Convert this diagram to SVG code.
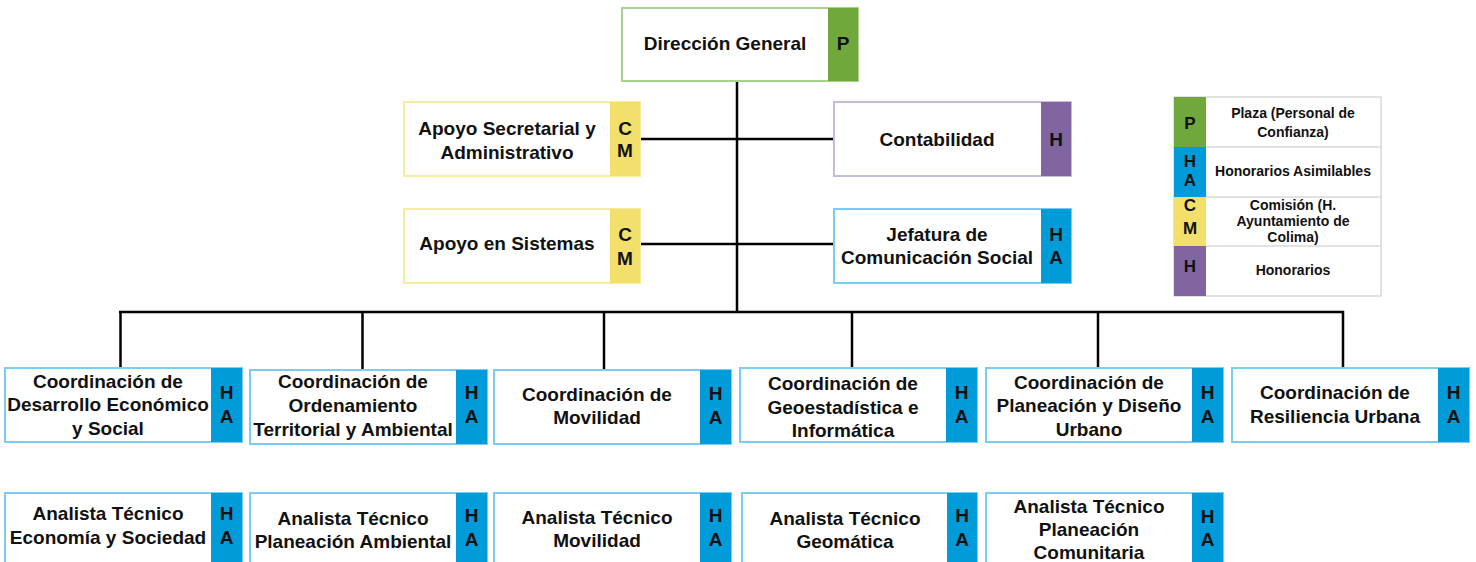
<svg xmlns="http://www.w3.org/2000/svg" width="1476" height="562" viewBox="0 0 1476 562">
<style>
text{font-family:"Liberation Sans",Arial,sans-serif;font-weight:bold;fill:#111;text-anchor:middle}
.t{font-size:19px}
.lg{font-size:14px}
.lk{font-size:17px}
.box{fill:#fff;stroke-width:2}
.bg{stroke:#a9d18e}.by{stroke:#f7eba0}.bp{stroke:#c9b9dd}.bb{stroke:#7acdf2}
.fg{fill:#70a83c}.fy{fill:#f3df6c}.fp{fill:#8065a1}.fb{fill:#009bd9}
.conn line{stroke:#000;stroke-width:2.5}
</style>
<rect width="1476" height="562" fill="#fff"/>
<g class="conn" id="connectors">
<line x1="737" y1="81" x2="737" y2="312"/>
<line x1="640" y1="139" x2="834" y2="139"/>
<line x1="640" y1="244" x2="834" y2="244"/>
<line x1="119" y1="312" x2="1344" y2="312"/>
<line x1="120.5" y1="311" x2="120.5" y2="368"/>
<line x1="362.5" y1="311" x2="362.5" y2="370"/>
<line x1="604" y1="311" x2="604" y2="370"/>
<line x1="852" y1="311" x2="852" y2="368"/>
<line x1="1098" y1="311" x2="1098" y2="368"/>
<line x1="1343" y1="311" x2="1343" y2="368"/>
</g>
<g id="direccion-general">
<rect class="box bg" x="622" y="8" width="236" height="73"/>
<rect class="fg" x="828" y="8" width="30" height="73"/>
<text class="t" x="725" y="50">Dirección General</text>
<text class="t" x="843" y="50">P</text>
</g>
<g id="apoyo-secretarial">
<rect class="box by" x="404" y="102" width="236" height="74"/>
<rect class="fy" x="610" y="102" width="30" height="74"/>
<text class="t" x="507" y="135">Apoyo Secretarial y</text>
<text class="t" x="507" y="159">Administrativo</text>
<text class="t" x="625" y="135">C</text>
<text class="t" x="625" y="157">M</text>
</g>
<g id="apoyo-sistemas">
<rect class="box by" x="404" y="209" width="236" height="74"/>
<rect class="fy" x="610" y="209" width="30" height="74"/>
<text class="t" x="507" y="250">Apoyo en Sistemas</text>
<text class="t" x="625" y="241">C</text>
<text class="t" x="625" y="265">M</text>
</g>
<g id="contabilidad">
<rect class="box bp" x="834" y="102" width="237" height="74"/>
<rect class="fp" x="1041" y="102" width="30" height="74"/>
<text class="t" x="937" y="146">Contabilidad</text>
<text class="t" x="1056" y="146">H</text>
</g>
<g id="jefatura">
<rect class="box bb" x="834" y="209" width="237" height="74"/>
<rect class="fb" x="1041" y="209" width="30" height="74"/>
<text class="t" x="937" y="241">Jefatura de</text>
<text class="t" x="937" y="264">Comunicación Social</text>
<text class="t" x="1056" y="241">H</text>
<text class="t" x="1056" y="264">A</text>
</g>
<g id="coord-desarrollo">
<rect class="box bb" x="5" y="368" width="237" height="74"/>
<rect class="fb" x="211" y="368" width="31" height="74"/>
<text class="t" x="108" y="388">Coordinación de</text>
<text class="t" x="108" y="411">Desarrollo Económico</text>
<text class="t" x="108" y="435">y Social</text>
<text class="t" x="226.5" y="399">H</text>
<text class="t" x="226.5" y="423">A</text>
</g>
<g id="coord-ordenamiento">
<rect class="box bb" x="250" y="370" width="237" height="74"/>
<rect class="fb" x="456" y="370" width="31" height="74"/>
<text class="t" x="353" y="388">Coordinación de</text>
<text class="t" x="353" y="412">Ordenamiento</text>
<text class="t" x="353" y="436">Territorial y Ambiental</text>
<text class="t" x="471.5" y="399">H</text>
<text class="t" x="471.5" y="423">A</text>
</g>
<g id="coord-movilidad">
<rect class="box bb" x="494" y="370" width="237" height="74"/>
<rect class="fb" x="700" y="370" width="31" height="74"/>
<text class="t" x="597" y="401">Coordinación de</text>
<text class="t" x="597" y="424">Movilidad</text>
<text class="t" x="715.5" y="400">H</text>
<text class="t" x="715.5" y="424">A</text>
</g>
<g id="coord-geoestadistica">
<rect class="box bb" x="740" y="368" width="237" height="74"/>
<rect class="fb" x="946" y="368" width="31" height="74"/>
<text class="t" x="843" y="390">Coordinación de</text>
<text class="t" x="843" y="414">Geoestadística e</text>
<text class="t" x="843" y="437">Informática</text>
<text class="t" x="961.5" y="399">H</text>
<text class="t" x="961.5" y="423">A</text>
</g>
<g id="coord-planeacion">
<rect class="box bb" x="986" y="368" width="237" height="74"/>
<rect class="fb" x="1192" y="368" width="31" height="74"/>
<text class="t" x="1089" y="389">Coordinación de</text>
<text class="t" x="1089" y="412">Planeación y Diseño</text>
<text class="t" x="1089" y="436">Urbano</text>
<text class="t" x="1207.5" y="399">H</text>
<text class="t" x="1207.5" y="423">A</text>
</g>
<g id="coord-resiliencia">
<rect class="box bb" x="1232" y="368" width="237" height="74"/>
<rect class="fb" x="1438" y="368" width="31" height="74"/>
<text class="t" x="1335" y="399">Coordinación de</text>
<text class="t" x="1335" y="423">Resiliencia Urbana</text>
<text class="t" x="1453.5" y="399">H</text>
<text class="t" x="1453.5" y="423">A</text>
</g>
<g id="analista-economia">
<rect class="box bb" x="5" y="493" width="237" height="80"/>
<rect class="fb" x="211" y="493" width="31" height="80"/>
<text class="t" x="108" y="520">Analista Técnico</text>
<text class="t" x="108" y="544">Economía y Sociedad</text>
<text class="t" x="226.5" y="520">H</text>
<text class="t" x="226.5" y="544">A</text>
</g>
<g id="analista-ambiental">
<rect class="box bb" x="250" y="493" width="237" height="80"/>
<rect class="fb" x="456" y="493" width="31" height="80"/>
<text class="t" x="353" y="525">Analista Técnico</text>
<text class="t" x="353" y="548">Planeación Ambiental</text>
<text class="t" x="471.5" y="522">H</text>
<text class="t" x="471.5" y="546">A</text>
</g>
<g id="analista-movilidad">
<rect class="box bb" x="494" y="493" width="237" height="80"/>
<rect class="fb" x="700" y="493" width="31" height="80"/>
<text class="t" x="597" y="524">Analista Técnico</text>
<text class="t" x="597" y="547">Movilidad</text>
<text class="t" x="715.5" y="522">H</text>
<text class="t" x="715.5" y="546">A</text>
</g>
<g id="analista-geomatica">
<rect class="box bb" x="742" y="493" width="235" height="80"/>
<rect class="fb" x="947" y="493" width="30" height="80"/>
<text class="t" x="845" y="525">Analista Técnico</text>
<text class="t" x="845" y="548">Geomática</text>
<text class="t" x="962" y="522">H</text>
<text class="t" x="962" y="546">A</text>
</g>
<g id="analista-comunitaria">
<rect class="box bb" x="986" y="493" width="237" height="80"/>
<rect class="fb" x="1192" y="493" width="31" height="80"/>
<text class="t" x="1089" y="513">Analista Técnico</text>
<text class="t" x="1089" y="536">Planeación</text>
<text class="t" x="1089" y="559">Comunitaria</text>
<text class="t" x="1207.5" y="523">H</text>
<text class="t" x="1207.5" y="546">A</text>
</g>
<g id="legend">
<rect x="1174" y="97" width="207" height="199" fill="#fff" stroke="#d9d9d9" stroke-width="1.5"/>
<line x1="1174" y1="147" x2="1381" y2="147" stroke="#d9d9d9" stroke-width="1.5"/>
<line x1="1174" y1="197" x2="1381" y2="197" stroke="#d9d9d9" stroke-width="1.5"/>
<line x1="1174" y1="246" x2="1381" y2="246" stroke="#d9d9d9" stroke-width="1.5"/>
<rect class="fg" x="1174" y="97" width="32" height="50"/>
<rect class="fb" x="1174" y="147" width="32" height="50"/>
<rect class="fy" x="1174" y="197" width="32" height="49"/>
<rect class="fp" x="1174" y="246" width="32" height="50"/>
<text class="lk" x="1190" y="129">P</text>
<text class="lk" x="1190" y="167">H</text>
<text class="lk" x="1190" y="186">A</text>
<text class="lk" x="1190" y="211">C</text>
<text class="lk" x="1190" y="234">M</text>
<text class="lk" x="1190" y="272">H</text>
<text class="lg" x="1293" y="118">Plaza (Personal de</text>
<text class="lg" x="1293" y="137">Confianza)</text>
<text class="lg" x="1293" y="176">Honorarios Asimilables</text>
<text class="lg" x="1293" y="210">Comisión (H.</text>
<text class="lg" x="1293" y="226">Ayuntamiento de</text>
<text class="lg" x="1293" y="242">Colima)</text>
<text class="lg" x="1293" y="275">Honorarios</text>
</g>
</svg>
